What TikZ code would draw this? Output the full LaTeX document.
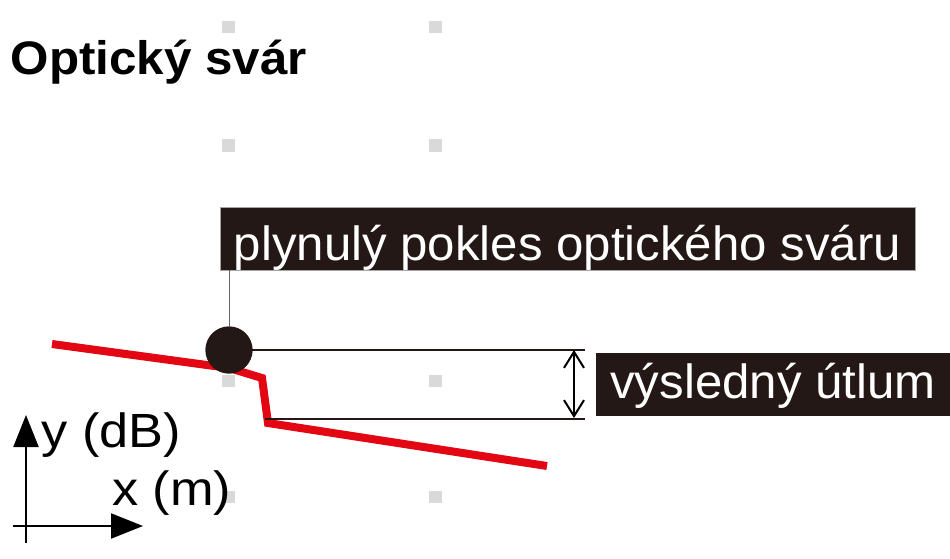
\documentclass[tikz,border=0pt]{standalone}
\usepackage{fontspec}
\setmainfont{Liberation Sans}
\newfontfamily\boxfont[FakeStretch=1.025]{Liberation Sans}
\newfontfamily\titlefont[FakeStretch=1.05]{Liberation Sans}
\newfontfamily\axisfont[FakeStretch=1.09]{Liberation Sans}
\usetikzlibrary{arrows.meta}
\definecolor{boxdark}{RGB}{35,24,21}
\definecolor{weldred}{RGB}{227,6,19}
\definecolor{guide}{RGB}{217,217,217}
\begin{document}
\begin{tikzpicture}[x=1pt,y=-1pt,
  guidesq/.style={fill=guide,minimum size=12.5pt,inner sep=0pt,draw=none},
  darklabel/.style={fill=boxdark,text=white,inner xsep=0pt,inner ysep=0pt,font=\boxfont\fontsize{48}{56}\selectfont},
  dimline/.style={line width=2.2pt,draw=boxdark},
  axisline/.style={line width=2pt,draw=black,-{Triangle[length=32pt,width=25pt]}},
  axislabel/.style={inner sep=0pt,anchor=base west,font=\axisfont\fontsize{48}{56}\selectfont}]
\useasboundingbox (0,0) rectangle (950,558);
% guide squares
\foreach \yy [count=\i] in {27,145.5,263,381,497}{
  \node[guidesq] (ga\i) at (228.5,\yy) {};
  \node[guidesq] (gb\i) at (435.5,\yy) {};
}
% title
\node[inner sep=0pt,anchor=base west,font=\titlefont\fontsize{47}{56}\selectfont\bfseries] (title) at (10.5,74) {Optický svár};
% red trace
\coordinate (p0) at (52,344);
\coordinate (p1) at (229,368);
\coordinate (p2) at (262,378);
\coordinate (p3) at (268,423);
\coordinate (p4) at (547,466);
\draw[weldred,line width=8pt,line join=miter] (p0) -- (p1) -- (p2) -- (p3) -- (p4);
% labels
\node[darklabel,draw=gray!70,line width=0.8pt,minimum width=695pt,text height=53pt,text depth=10pt,anchor=base] (b1) at (567.5,260) {plynulý pokles optického sváru};
\node[darklabel,minimum width=354pt,text height=45pt,text depth=18pt,anchor=base] (b2) at (773,398) {výsledný útlum};
% weld point
\node[circle,fill=boxdark,minimum size=47pt,inner sep=0pt] (c) at (229,350) {};
\draw[gray!80!black,line width=1pt] (c.north) -- (c |- b1.south);
% dimension lines
\coordinate (r1) at (585,350);
\coordinate (l2) at (265,419);
\coordinate (r2) at (585,419);
\coordinate (a1) at (574,350);
\coordinate (a2) at (574,418);
\draw[dimline] (c.center) -- (r1);
\draw[dimline] (l2) -- (r2);
\draw[line width=2pt,{Straight Barb[length=16pt,width=20pt]}-{Straight Barb[length=16pt,width=20pt]}] (a1) -- (a2);
\node[circle,fill=boxdark,minimum size=47pt,inner sep=0pt] (c2) at (c) {};
% axes
\coordinate (yo) at (26,543);
\coordinate (yt) at (26,415);
\coordinate (xo) at (13,526);
\coordinate (xt) at (143,526);
\draw[axisline] (yo) -- (yt);
\draw[axisline] (xo) -- (xt);
\node[axislabel] (ylab) at (41.5,447) {y (dB)};
\node[axislabel] (xlab) at (112,505) {x (m)};
\end{tikzpicture}
\end{document}
